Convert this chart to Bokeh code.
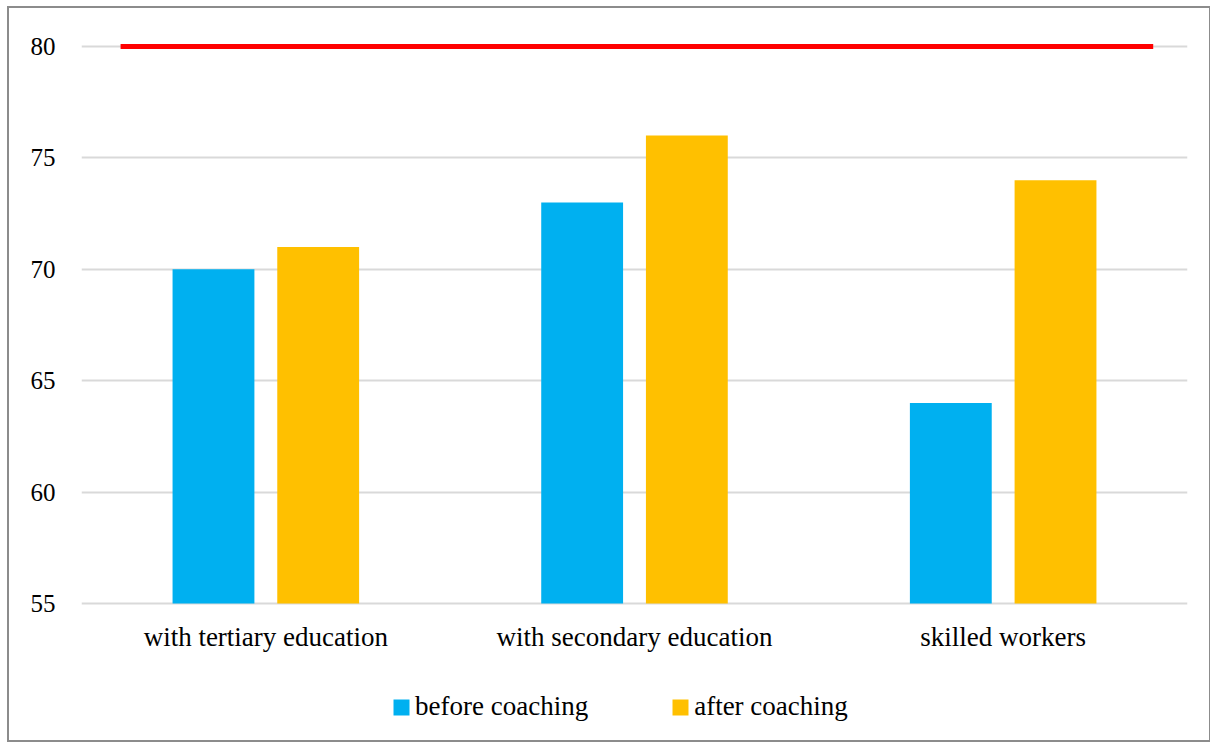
from bokeh.plotting import figure
from bokeh.models import FixedTicker, Legend, LegendItem, Range1d
from bokeh.core.properties import value
from bokeh.embed import file_html
from bokeh.resources import INLINE

categories = ["with tertiary education", "with secondary education", "skilled workers"]
before_coaching = [70, 73, 64]
after_coaching = [71, 76, 74]
target_value = 80
y_ticks = [55, 60, 65, 70, 75, 80]

FONT = "Liberation Serif"
BLUE = "#00b0f0"
GOLD = "#ffc000"

centers = [i + 0.5 for i in range(len(categories))]
offset = 0.142
bar_w = 0.222
x_before = [c - offset for c in centers]
x_after = [c + offset for c in centers]

y_base = y_ticks[0]
# frame extends a bit above 80 (so the thick target line is not clipped)
# and down to the bottom of the chart (so labels/legend live inside it)
y_top = y_base + 25 * 563 / 557
y_bottom = y_base - 25 * 135 / 557

p = figure(width=1204, height=736, output_backend="svg", toolbar_location=None,
           x_axis_location=None,
           x_range=Range1d(0, len(categories)), y_range=Range1d(y_bottom, y_top),
           min_border_left=72, min_border_right=26, min_border_top=32, min_border_bottom=6)
p.margin = (6, 0, 0, 7)
p.styles = {"border": "2px solid #8c8c8c"}
p.outline_line_color = None
p.background_fill_color = "white"
p.border_fill_color = "white"

p.xgrid.grid_line_color = None
p.ygrid.grid_line_color = "#d9d9d9"
p.ygrid.grid_line_width = 2
p.yaxis.ticker = FixedTicker(ticks=y_ticks)
ax = p.yaxis[0]
ax.major_tick_line_color = None
ax.minor_tick_line_color = None
ax.major_tick_out = 0
ax.major_tick_in = 0
ax.major_label_text_font = FONT
ax.major_label_text_color = "#000000"
ax.major_label_text_font_size = "25px"
ax.axis_line_color = None
ax.major_label_standoff = 26

r1 = p.vbar(x=x_before, top=before_coaching, bottom=y_base, width=bar_w, fill_color=BLUE, line_color=None)
r2 = p.vbar(x=x_after, top=after_coaching, bottom=y_base, width=bar_w, fill_color=GOLD, line_color=None)

line_x = [centers[0] - 0.394, centers[-1] + 0.407]
p.line(x=line_x, y=[target_value, target_value], line_color="#ff0000", line_width=5)

# category labels (x axis)
p.text(x=centers, y=[y_base] * len(categories), text=categories,
       text_align="center", text_baseline="middle", y_offset=33,
       text_font=value(FONT), text_font_size="27px", text_color="#000000")

legend = Legend(items=[LegendItem(label="before coaching", renderers=[r1]),
                       LegendItem(label="after coaching", renderers=[r2])],
                orientation="horizontal", location=(310, 16))
legend.padding = 0
legend.margin = 0
legend.border_line_color = None
legend.background_fill_alpha = 0
legend.glyph_width = 20
legend.glyph_height = 20
legend.label_standoff = 4
legend.label_width = 170
legend.spacing = 82
legend.label_text_font = FONT
legend.label_text_font_size = "27px"
legend.label_text_color = "#000000"
p.add_layout(legend, "center")

open("out.html", "w").write(file_html(p, INLINE))
